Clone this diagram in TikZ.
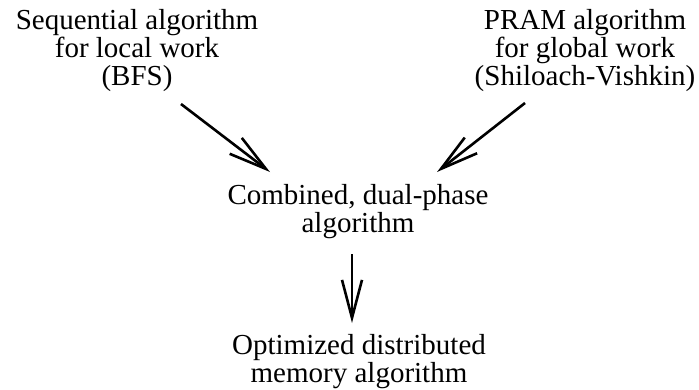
\documentclass[tikz,border=0pt]{standalone}
\usepackage{fontspec}
\setmainfont{Liberation Serif}
\usetikzlibrary{arrows.meta}
\begin{document}
\begin{tikzpicture}[x=1pt,y=-1pt,
  lbl/.style={align=center,inner sep=0pt,anchor=base,font=\fontsize{29}{28}\selectfont},
  arr/.style={line width=2.6pt,-{Straight Barb[length=38pt,width=20pt,line width=2.6pt]}}]
\useasboundingbox (0,0) rectangle (699,389);
\node[lbl] (seq) at (137,85) {Sequential algorithm\\for local work\\(BFS)};
\node[lbl] (pram) at (585,85) {PRAM algorithm\\for global work\\(Shiloach-Vishkin)};
\node[lbl] (comb) at (358,232) {Combined, dual-phase\\algorithm};
\node[lbl] (opt) at (359,382) {Optimized distributed\\memory algorithm};
\coordinate (s1) at (181,104);
\coordinate (s2) at (270,172);
\coordinate (p1) at (525,103);
\coordinate (p2) at (437,172);
\coordinate (c1) at (352,254);
\coordinate (c2) at (352,323);
\draw[arr] (s1) -- (s2);
\draw[arr] (p1) -- (p2);
\draw[arr] (c1) -- (c2);
\end{tikzpicture}
\end{document}
